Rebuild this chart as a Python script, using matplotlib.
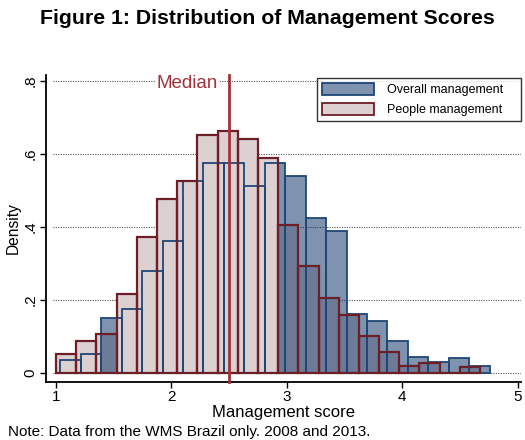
import matplotlib
matplotlib.use("Agg")
import matplotlib.pyplot as plt
from matplotlib.patches import Patch
import numpy as np

plt.rcParams['font.family'] = ['Liberation Sans', 'DejaVu Sans']

# ---- data ----
overall_start = 1.037
overall_width = 0.1772
overall_density = [0.036, 0.052, 0.150, 0.175, 0.278, 0.362, 0.524, 0.575, 0.575, 0.512,
                   0.575, 0.538, 0.424, 0.387, 0.162, 0.142, 0.086, 0.044, 0.031, 0.041, 0.020]

people_start = 1.0
people_width = 0.175
people_density = [0.052, 0.088, 0.106, 0.216, 0.371, 0.477, 0.526, 0.652, 0.661, 0.640,
                  0.587, 0.404, 0.293, 0.206, 0.158, 0.101, 0.057, 0.020, 0.028, 0.0, 0.017]

median_score = 2.50
x_ticks = [1, 2, 3, 4, 5]
y_ticks = [0, 0.2, 0.4, 0.6, 0.8]
y_ticklabels = ["0", ".2", ".4", ".6", ".8"]
series_labels = ["Overall management", "People management"]

# ---- style ----
blue_face = (0.0, 0.157, 0.373, 0.5)
blue_edge = "#1e4678"
pink_face = "#ddd0d1"
red_edge = "#6e1e26"
median_color = "#a3303a"

fig = plt.figure(figsize=(5.25, 4.4), dpi=100)
ax = fig.add_axes([0.0876, 0.1325, 0.9048, 0.697])

ob_left = overall_start + overall_width * np.arange(len(overall_density))
pp_left = people_start + people_width * np.arange(len(people_density))

# fills (taller bar drawn on top)
bf = ax.bar(ob_left, overall_density, width=overall_width, align='edge',
            color=blue_face, linewidth=0)
rf = ax.bar(pp_left, people_density, width=people_width, align='edge',
            color=pink_face, linewidth=0)
for p, h in zip(bf.patches, overall_density):
    p.set_zorder(1 + h)
for p, h in zip(rf.patches, people_density):
    p.set_zorder(1 + h)

# outlines
ax.bar(ob_left, overall_density, width=overall_width, align='edge', fill=False,
       edgecolor=blue_edge, linewidth=1.3, zorder=4)
ax.bar(pp_left, people_density, width=people_width, align='edge', fill=False,
       edgecolor=red_edge, linewidth=1.6, zorder=5)

# grid
for yv in y_ticks:
    ax.axhline(yv, xmin=0.015, xmax=1.0, color="#555555", linestyle=(0, (1, 1.2)),
               linewidth=0.8, zorder=0)

ax.set_xlim(0.913, 5.03)
ax.set_ylim(-0.024, 0.815)

# median
ax.axvline(median_score, ymin=0, ymax=1.0, color=median_color, linewidth=2,
           zorder=6, clip_on=False)
ax.text(median_score - 0.1, 0.793, "Median", color=median_color, fontsize=13.5,
        ha='right', va='center', zorder=6,
        bbox=dict(facecolor='white', edgecolor='none', pad=1))

ax.set_xticks(x_ticks)
ax.set_xticklabels([str(t) for t in x_ticks], fontsize=11)
ax.set_yticks(y_ticks)
ax.set_yticklabels(y_ticklabels, fontsize=11, rotation=90, va='center')
ax.tick_params(axis='both', direction='out', length=4, width=1, color='black', pad=2)

for s in ['top', 'right']:
    ax.spines[s].set_visible(False)
for s in ['left', 'bottom']:
    ax.spines[s].set_linewidth(1.3)

ax.set_xlabel("Management score", fontsize=12, labelpad=1)
ax.set_ylabel("Density", fontsize=11.2, labelpad=2)

handles = [Patch(facecolor=blue_face, edgecolor=blue_edge, linewidth=1.3),
           Patch(facecolor=pink_face, edgecolor=red_edge, linewidth=1.3)]
leg = ax.legend(handles, series_labels, loc='upper left',
                bbox_to_anchor=(0.5705, 0.85, 0.4295, 0.14), mode='expand',
                fontsize=9, frameon=True, fancybox=False, borderaxespad=0,
                handlelength=4.2, handleheight=1.1, labelspacing=0.55,
                borderpad=0.4, handletextpad=1.0)
leg.get_frame().set_edgecolor('black')
leg.get_frame().set_linewidth(1.0)
leg.set_zorder(10)

fig.text(0.509, 0.958, "Figure 1: Distribution of Management Scores", fontsize=15.3,
         fontweight='bold', ha='center', va='center')
fig.text(0.015, 0.018, "Note: Data from the WMS Brazil only. 2008 and 2013.",
         fontsize=11, ha='left', va='center')

fig.savefig("out.png", dpi=100)
